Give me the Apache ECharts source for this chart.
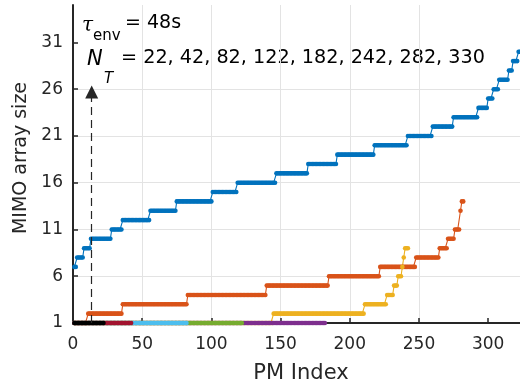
<!DOCTYPE html>
<html><head><meta charset="utf-8">
<script src="https://cdn.jsdelivr.net/npm/echarts@6/dist/echarts.min.js"></script>
<style>html,body{margin:0;padding:0;background:#fff}#c{width:520px;height:389px}</style>
</head><body><div id="c"></div>
<script>
// Series lengths (N_T)
const NT = [22, 42, 82, 122, 182, 242, 282, 330];
// Step levels (MIMO array size) and the PM index where each level starts
const levels330 = [7, 8, 9, 10, 11, 12, 13, 14, 15, 16, 17, 18, 19, 20, 21, 22, 23, 24, 25, 26, 27, 28, 29, 30];
const starts330 = [1, 3, 8, 13, 28, 36, 56, 75, 101, 119, 147, 170, 191, 218, 242, 260, 275, 293, 300, 304, 308, 315, 318, 322];
const levels282 = [1, 2, 3, 4, 5, 6, 7, 8, 9, 10, 11, 13, 14];
const starts282 = [1, 11, 36, 83, 140, 185, 222, 248, 265, 271, 276, 280, 281];
const levels242 = [1, 2, 3, 4, 5, 6, 7, 8, 9];
const starts242 = [1, 145, 211, 227, 232, 235, 238, 239, 240];
const levels182 = [1]; const starts182 = [1];
const levels122 = [1]; const starts122 = [1];
const levels82 = [1];  const starts82 = [1];
const levels42 = [1];  const starts42 = [1];
const levels22 = [1];  const starts22 = [1];
// Axis ticks
const xTicks = [0, 50, 100, 150, 200, 250, 300];
const yTicks = [1, 6, 11, 16, 21, 26, 31];
// Annotation arrow (PM index, top value)
const arrowX = 13.5, arrowBottom = 1, arrowTop = 25.7;

function expand(levels, starts, n) {
  const out = [];
  for (let k = 0; k < levels.length; k++) {
    const end = k + 1 < starts.length ? starts[k + 1] - 1 : n;
    for (let i = starts[k]; i <= end; i++) out.push([i, levels[k]]);
  }
  return out;
}
function mk(name, color, data, extra) {
  return Object.assign({
    name, type: 'line', data, showSymbol: true, symbol: 'circle', symbolSize: 4.6,
    lineStyle: { width: 1.1, color }, itemStyle: { color }, clip: false,
    animation: false, silent: true, emphasis: { disabled: true }
  }, extra || {});
}
const FONT = 'DejaVu Sans';
const TXT = '#262626';
const chart = echarts.init(document.getElementById('c'), null, { renderer: 'canvas' });
chart.setOption({
  animation: false,
  backgroundColor: '#fff',
  grid: { left: 73, right: 0, top: 5, bottom: 65, containLabel: false },
  xAxis: {
    type: 'value', min: 0, max: 323, interval: 50,
    name: 'PM Index', nameLocation: 'middle', nameGap: 40,
    nameTextStyle: { fontFamily: FONT, fontSize: 21, color: TXT, padding: [0, 0, 0, 9] },
    axisLine: { show: true, lineStyle: { color: TXT, width: 2 } },
    axisTick: { show: true, inside: true, length: 5, lineStyle: { color: TXT, width: 1.5 }, customValues: xTicks },
    axisLabel: { fontFamily: FONT, fontSize: 17, color: TXT, margin: 13, customValues: xTicks },
    splitLine: { show: true, showMinLine: false, showMaxLine: false, lineStyle: { color: '#e3e3e3', width: 1 } }
  },
  yAxis: {
    type: 'value', min: 1, max: 35, interval: 5,
    name: 'MIMO array size', nameLocation: 'middle', nameGap: 39,
    nameTextStyle: { fontFamily: FONT, fontSize: 19, color: TXT, padding: [0, 0, 0, 12] },
    axisLine: { show: true, lineStyle: { color: TXT, width: 2 } },
    axisTick: { show: true, inside: true, length: 5, lineStyle: { color: TXT, width: 1.5 }, customValues: yTicks },
    axisLabel: { fontFamily: FONT, fontSize: 17, color: TXT, margin: 10, customValues: yTicks },
    splitLine: { show: true, showMinLine: false, showMaxLine: false, lineStyle: { color: '#e3e3e3', width: 1 } }
  },
  series: [
    mk('330', '#0072BD', expand(levels330, starts330, NT[7]), {
      markLine: {
        silent: true, animation: false, symbol: ['none', 'triangle'], symbolSize: [13, 13],
        lineStyle: { type: [8, 5], color: '#262626', width: 1.2 },
        itemStyle: { color: '#000' },
        label: { show: false },
        data: [[{ coord: [arrowX, arrowBottom] }, { coord: [arrowX, arrowTop] }]]
      }
    }),
    mk('282', '#D95319', expand(levels282, starts282, NT[6])),
    mk('242', '#EDB120', expand(levels242, starts242, NT[5])),
    mk('182', '#7E2F8E', expand(levels182, starts182, NT[4])),
    mk('122', '#77AC30', expand(levels122, starts122, NT[3])),
    mk('82', '#4DBEEE', expand(levels82, starts82, NT[2])),
    mk('42', '#A2142F', expand(levels42, starts42, NT[1])),
    mk('22', '#000000', expand(levels22, starts22, NT[0]))
  ],
  graphic: [
    { type: 'text', left: 82, top: 16, style: { text: 'τ', font: 'italic 20px "DejaVu Serif"', fill: '#000' } },
    { type: 'text', left: 93, top: 29, style: { text: 'env', font: '15px "DejaVu Sans"', fill: '#000' } },
    { type: 'text', left: 125, top: 14, style: { text: '= 48s', font: '19px "DejaVu Sans"', fill: '#000' } },
    { type: 'text', left: 87, top: 49, style: { text: 'N', font: 'italic 21px "DejaVu Sans"', fill: '#000' } },
    { type: 'text', left: 104, top: 72, style: { text: 'T', font: 'italic 15px "DejaVu Sans"', fill: '#000' } },
    { type: 'text', left: 121, top: 49, style: { text: '= ' + NT.join(', '), font: '19.2px "DejaVu Sans"', fill: '#000' } }
  ]
});
</script>
</body></html>
